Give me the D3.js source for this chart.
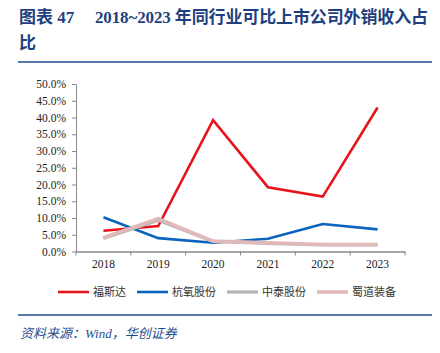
<!DOCTYPE html>
<html>
<head>
<meta charset="utf-8">
<script src="https://cdn.jsdelivr.net/npm/d3@7"></script>
<style>
  body { margin: 0; background: #fff; }
  .plotText { font-family: "Liberation Serif", "Times New Roman", serif; font-size: 11px; fill: #222; }
</style>
</head>
<body>
<div id="chart"></div>
<script>
const years = ["2018", "2019", "2020", "2021", "2022", "2023"];
const yTicks = [0, 5, 10, 15, 20, 25, 30, 35, 40, 45, 50];
const fusida = [6.2, 7.6, 39.2, 19.2, 16.4, 43.0];
const hangyang = [10.2, 4.0, 2.6, 3.8, 8.2, 6.6];
const zhongtai = [3.9, 9.3, 3.0, 2.4, 2.0, 2.0];
const shudao = [4.1, 9.8, 3.1, 2.6, 2.1, 2.1];
const seriesNames = ["福斯达", "杭氧股份", "中泰股份", "蜀道装备"];

const W = 440, H = 353;
const svg = d3.select("#chart").append("svg")
    .attr("width", W).attr("height", H);

// title
const titleFont = "'Liberation Serif', 'Noto Sans CJK SC', serif";
const title = svg.append("g")
    .attr("font-family", titleFont).attr("font-size", 17).attr("font-weight", "bold")
    .attr("fill", "#1f3f7f");
title.append("text").attr("x", 19).attr("y", 23).text("图表 47");
title.append("text").attr("x", 95).attr("y", 23)
    .attr("textLength", 333).attr("lengthAdjust", "spacing")
    .text("2018~2023 年同行业可比上市公司外销收入占");
title.append("text").attr("x", 19).attr("y", 49).text("比");

svg.append("line").attr("x1", 18).attr("x2", 432).attr("y1", 62).attr("y2", 62)
    .attr("stroke", "#1f4e8f").attr("stroke-width", 1.5);

// scales
const x = d3.scaleBand().domain(years).range([76, 405]);
const y = d3.scaleLinear().domain([0, 50]).range([251.5, 84]);

// y axis
const gy = svg.append("g").attr("class", "plotText")
    .attr("transform", "translate(76,0)")
    .call(d3.axisLeft(y).tickValues(yTicks).tickSize(4).tickSizeOuter(0).tickPadding(6)
        .tickFormat(d => d.toFixed(1) + "%"));
gy.selectAll("line, path").attr("stroke", "#888");
gy.selectAll("text").attr("fill", "#222").attr("font-size", 11.5);

// x axis
const gx = svg.append("g").attr("class", "plotText")
    .attr("transform", `translate(0,${y(0)})`)
    .call(d3.axisBottom(x).tickSize(0).tickPadding(8));
gx.select(".domain").attr("stroke", "#888").attr("stroke-width", 1.5);
gx.selectAll("text").attr("fill", "#222").attr("font-size", 11.5);
gx.selectAll(".sep").data(years.concat(["end"])).join("line")
    .attr("class", "sep")
    .attr("x1", (d, i) => 76 + i * x.bandwidth())
    .attr("x2", (d, i) => 76 + i * x.bandwidth())
    .attr("y1", 0).attr("y2", 4)
    .attr("stroke", "#888");

// lines
const series = [
    {name: seriesNames[0], values: fusida, color: "#e8141c", width: 2.6},
    {name: seriesNames[1], values: hangyang, color: "#0a63be", width: 2.6},
    {name: seriesNames[2], values: zhongtai, color: "#b4b4b4", width: 3.2},
    {name: seriesNames[3], values: shudao, color: "#e2b9b9", width: 3.6}
];
const line = d3.line()
    .x((d, i) => x(years[i]) + x.bandwidth() / 2)
    .y(d => y(d));
svg.selectAll(".seriesLine").data(series).join("path")
    .attr("class", "seriesLine")
    .attr("fill", "none")
    .attr("stroke", d => d.color)
    .attr("stroke-width", d => d.width)
    .attr("stroke-linejoin", "miter")
    .attr("d", d => line(d.values));

// legend
const legendX = [58, 137, 227, 317];
const lg = svg.selectAll(".legend").data(series).join("g")
    .attr("class", "legend")
    .attr("transform", (d, i) => `translate(${legendX[i]},292)`);
lg.append("line").attr("x1", 0).attr("x2", 31)
    .attr("stroke", d => d.color).attr("stroke-width", d => d.width);
lg.append("text").attr("x", 35).attr("y", 4)
    .attr("font-family", "'Noto Sans CJK SC', sans-serif").attr("font-size", 11)
    .attr("fill", "#333").text(d => d.name);

// footer
svg.append("line").attr("x1", 18).attr("x2", 432).attr("y1", 315).attr("y2", 315)
    .attr("stroke", "#1f4e8f").attr("stroke-width", 1.5);
svg.append("text").attr("x", 20).attr("y", 338)
    .attr("font-family", "'Liberation Serif', 'Noto Sans CJK SC', serif")
    .attr("font-size", 13).attr("font-style", "italic").attr("fill", "#1f4e8f")
    .text("资料来源：Wind，华创证券");
</script>
</body>
</html>
